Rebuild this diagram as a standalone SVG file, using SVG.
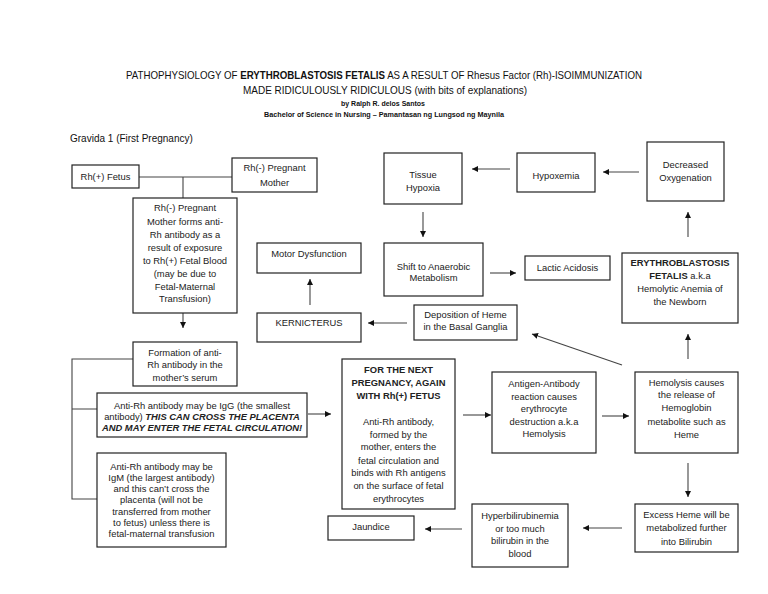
<svg xmlns="http://www.w3.org/2000/svg" width="768" height="594" viewBox="0 0 768 594">
<defs>
<marker id="ah" markerUnits="userSpaceOnUse" markerWidth="7" markerHeight="6" refX="6" refY="3" orient="auto">
<path d="M0,0 L6,3 L0,6 Z" fill="#111"/>
</marker>
<style>
.b{fill:#fff;stroke:#222;stroke-width:1.2}
.t{font-family:"Liberation Sans",Arial,sans-serif;font-size:9.4px;fill:#222;text-anchor:middle}
.c{fill:none;stroke:#444;stroke-width:1.1}
.a{fill:none;stroke:#444;stroke-width:1.1;marker-end:url(#ah)}
.h{font-family:"Liberation Sans",Arial,sans-serif;fill:#111;text-anchor:middle}
.bd{font-weight:bold}
.bi{font-weight:bold;font-style:italic}
</style>
</defs>
<rect width="768" height="594" fill="#fff"/>
<g id="title">
<text class="h" x="384" y="79" font-size="10.5" textLength="516" lengthAdjust="spacingAndGlyphs">PATHOPHYSIOLOGY OF <tspan class="bd">ERYTHROBLASTOSIS FETALIS</tspan> AS A RESULT OF Rhesus Factor (Rh)-ISOIMMUNIZATION</text>
<text class="h" x="385" y="94" font-size="10.5" textLength="284" lengthAdjust="spacingAndGlyphs">MADE RIDICULOUSLY RIDICULOUS (with bits of explanations)</text>
<text class="h bd" x="383" y="106" font-size="6.4" textLength="84" lengthAdjust="spacingAndGlyphs">by Ralph R. delos Santos</text>
<text class="h bd" x="384" y="117" font-size="6.4" textLength="240" lengthAdjust="spacingAndGlyphs">Bachelor of Science in Nursing – Pamantasan ng Lungsod ng Maynila</text>
<text x="70" y="142" font-family="Liberation Sans,Arial,sans-serif" font-size="10" fill="#111">Gravida 1 (First Pregnancy)</text>
</g>
<g id="connectors">
<path class="c" d="M139,177 H232 M183,177 V198"/>
<path class="a" d="M183,313 V328"/>
<path class="c" d="M133,359 H72 V499 H97 M72,409 H97"/>
<path class="a" d="M308,414 H331"/>
<path class="a" d="M463,415 H491"/>
<path class="a" d="M602,416 H629"/>
<path class="a" d="M688,463 V497"/>
<path class="a" d="M622,528 H583"/>
<path class="a" d="M462,529 H425"/>
<path class="a" d="M688,359 V334"/>
<path class="a" d="M688,237 V212"/>
<path class="a" d="M639,172 H603"/>
<path class="a" d="M510,169 H472"/>
<path class="a" d="M423,212 V237"/>
<path class="a" d="M490,273 H516"/>
<path class="a" d="M407,323 H368"/>
<path class="a" d="M310,305 V279"/>
<path class="a" d="M622,365 L532,334"/>
</g>
<g id="fetus"><rect class="b" x="72" y="165" width="67" height="23"/><text class="t" x="105.5" y="180">Rh(+) Fetus</text></g>
<g id="mother"><rect class="b" x="232" y="158" width="85" height="34"/><text class="t" x="274.5" y="171">Rh(-) Pregnant</text><text class="t" x="274.5" y="186">Mother</text></g>
<g id="forms"><rect class="b" x="133" y="198" width="104" height="115"/>
<text class="t" x="185" y="211">Rh(-) Pregnant</text>
<text class="t" x="185" y="225">Mother forms anti-</text>
<text class="t" x="185" y="238">Rh antibody as a</text>
<text class="t" x="185" y="251">result of exposure</text>
<text class="t" x="185" y="264">to Rh(+) Fetal Blood</text>
<text class="t" x="185" y="277">(may be due to</text>
<text class="t" x="185" y="290">Fetal-Maternal</text>
<text class="t" x="185" y="302">Transfusion)</text></g>
<g id="formation"><rect class="b" x="133" y="342" width="104" height="44"/>
<text class="t" x="185" y="356">Formation of anti-</text>
<text class="t" x="185" y="368">Rh antibody in the</text>
<text class="t" x="185" y="381">mother’s serum</text></g>
<g id="igg"><rect class="b" x="97" y="393" width="210" height="44"/>
<text class="t" x="202" y="409">Anti-Rh antibody may be IgG (the smallest</text>
<text class="t" x="202" y="420">antibody) <tspan class="bi">THIS CAN CROSS THE PLACENTA</tspan></text>
<text class="t bi" x="202" y="431">AND MAY ENTER THE FETAL CIRCULATION!</text></g>
<g id="igm"><rect class="b" x="97" y="453" width="129" height="94"/>
<text class="t" x="161.5" y="470">Anti-Rh antibody may be</text>
<text class="t" x="161.5" y="481">IgM (the largest antibody)</text>
<text class="t" x="161.5" y="492">and this can’t cross the</text>
<text class="t" x="161.5" y="503">placenta (will not be</text>
<text class="t" x="161.5" y="515">transferred from mother</text>
<text class="t" x="161.5" y="526">to fetus) unless there is</text>
<text class="t" x="161.5" y="537">fetal-maternal transfusion</text></g>
<g id="next"><rect class="b" x="342" y="359" width="113" height="150"/>
<text class="t bd" x="398.5" y="373">FOR THE NEXT</text>
<text class="t bd" x="398.5" y="386">PREGNANCY, AGAIN</text>
<text class="t bd" x="398.5" y="399">WITH Rh(+) FETUS</text>
<text class="t" x="398.5" y="425">Anti-Rh antibody,</text>
<text class="t" x="398.5" y="438">formed by the</text>
<text class="t" x="398.5" y="450">mother, enters the</text>
<text class="t" x="398.5" y="464">fetal circulation and</text>
<text class="t" x="398.5" y="476">binds with Rh antigens</text>
<text class="t" x="398.5" y="489">on the surface of fetal</text>
<text class="t" x="398.5" y="502">erythrocytes</text></g>
<g id="antigen"><rect class="b" x="492" y="372" width="104" height="81"/>
<text class="t" x="544" y="387">Antigen-Antibody</text>
<text class="t" x="544" y="400">reaction causes</text>
<text class="t" x="544" y="412">erythrocyte</text>
<text class="t" x="544" y="425">destruction a.k.a</text>
<text class="t" x="544" y="437">Hemolysis</text></g>
<g id="hemolysis"><rect class="b" x="635" y="372" width="103" height="81"/>
<text class="t" x="686.5" y="386">Hemolysis causes</text>
<text class="t" x="686.5" y="398">the release of</text>
<text class="t" x="686.5" y="411">Hemoglobin</text>
<text class="t" x="686.5" y="425">metabolite such as</text>
<text class="t" x="686.5" y="438">Heme</text></g>
<g id="excess"><rect class="b" x="635" y="504" width="103" height="48"/>
<text class="t" x="686.5" y="518">Excess Heme will be</text>
<text class="t" x="686.5" y="531">metabolized further</text>
<text class="t" x="686.5" y="545">into Bilirubin</text></g>
<g id="hyper"><rect class="b" x="472" y="504" width="96" height="63"/>
<text class="t" x="520" y="519">Hyperbilirubinemia</text>
<text class="t" x="520" y="532">or too much</text>
<text class="t" x="520" y="544">bilirubin in the</text>
<text class="t" x="520" y="557">blood</text></g>
<g id="jaundice"><rect class="b" x="328" y="516" width="86" height="24"/><text class="t" x="371" y="530">Jaundice</text></g>
<g id="ef"><rect class="b" x="622" y="253" width="116" height="70"/>
<text class="t bd" x="680" y="266">ERYTHROBLASTOSIS</text>
<text class="t" x="680" y="279"><tspan class="bd">FETALIS</tspan> a.k.a</text>
<text class="t" x="680" y="292">Hemolytic Anemia of</text>
<text class="t" x="680" y="305">the Newborn</text></g>
<g id="decreased"><rect class="b" x="647" y="142" width="77" height="59"/>
<text class="t" x="685.5" y="168">Decreased</text>
<text class="t" x="685.5" y="181">Oxygenation</text></g>
<g id="hypoxemia"><rect class="b" x="517" y="153" width="78" height="39"/><text class="t" x="556" y="179">Hypoxemia</text></g>
<g id="tissue"><rect class="b" x="384" y="153" width="78" height="51"/>
<text class="t" x="423" y="178">Tissue</text>
<text class="t" x="423" y="191">Hypoxia</text></g>
<g id="shift"><rect class="b" x="384" y="243" width="99" height="53"/>
<text class="t" x="433.5" y="270">Shift to Anaerobic</text>
<text class="t" x="433.5" y="281">Metabolism</text></g>
<g id="lactic"><rect class="b" x="525" y="256" width="85" height="24"/><text class="t" x="567.5" y="271">Lactic Acidosis</text></g>
<g id="deposition"><rect class="b" x="414" y="305" width="103" height="35"/>
<text class="t" x="465.5" y="318">Deposition of Heme</text>
<text class="t" x="465.5" y="330">in the Basal Ganglia</text></g>
<g id="kernicterus"><rect class="b" x="257" y="313" width="104" height="29"/><text class="t" x="309" y="326">KERNICTERUS</text></g>
<g id="motor"><rect class="b" x="257" y="243" width="104" height="30"/><text class="t" x="309" y="257">Motor Dysfunction</text></g>
</svg>
